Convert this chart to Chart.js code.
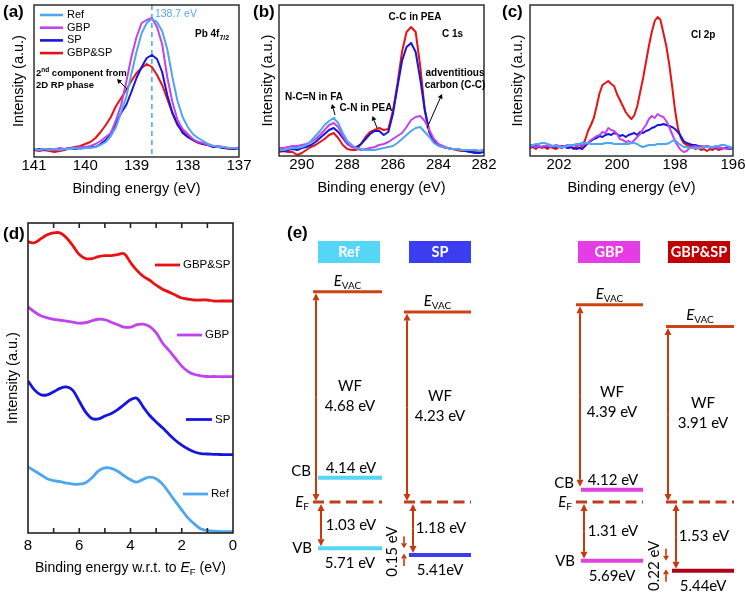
<!DOCTYPE html>
<html><head><meta charset="utf-8">
<script src="https://cdn.jsdelivr.net/npm/chart.js@4.4.1/dist/chart.umd.min.js"></script>
<style>
html,body{margin:0;padding:0;background:#fff;}
#fig{position:relative;width:746px;height:596px;background:#fff;overflow:hidden;}
#fig canvas{position:absolute;left:0;top:0;}
</style></head>
<body><div id="fig">
<canvas id="cvA" width="746" height="596"></canvas>
<canvas id="cvB" width="746" height="596"></canvas>
<canvas id="cvC" width="746" height="596"></canvas>
<canvas id="cvD" width="746" height="596"></canvas>
<canvas id="cvE" width="746" height="596"></canvas>
</div>
<script>
// ================= DATA =================
const seriesNames = ['Ref', 'GBP', 'SP', 'GBP&SP'];

// (a) Pb 4f7/2 : binding energy 141 -> 137 eV, step 0.1
const pbRange = [141, 137, 0.1];
const pbTicks = [141, 140, 139, 138, 137];
const pbPeak = 138.7;
const pbRef = [8,7,8,7,8,7,8,8,9,8, 9,9,10,12,15,21,30,45,60,83, 105,124,134,138,135,126,108,80,56,40, 30,23,19,16,13,11,10,10,9,9, 8];
const pbGBP = [8,7,8,8,7,9,8,9,9,10, 10,11,13,16,20,24,37,52,75,100, 120,134,137,139,130,113,80,55,37,28, 23,18,15,14,12,11,11,10,9,9, 9];
const pbSP  = [7,8,7,8,7,8,8,9,8,9, 9,10,10,13,17,24,34,44,52,65, 79,90,99,102,98,85,62,44,33,24, 20,17,15,13,12,10,10,9,9,8, 8];
const pbGS  = [7,6,7,6,5,6,7,9,10,11, 13,15,19,25,32,40,51,59,67,76, 84,89,93,90,82,72,58,44,32,26, 20,17,14,13,12,10,10,9,8,8, 8];

// (b) C 1s : 291 -> 282 eV, step 0.2
const c1sRange = [291, 282, 0.2];
const c1sTicks = [290, 288, 286, 284, 282];
const c1sRef = [6,6,7,8,8,9,11,15,20,25, 31,35,38,33,23,15,11,8,7,6, 6,6,7,8,9,10,13,17,21,25, 28,29,24,19,13,10,9,8,7,7, 6,6,6,6,5,6];
const c1sGBP = [8,8,9,10,10,11,12,14,17,21, 26,31,33,29,20,13,9,7,6,7, 8,9,11,12,14,17,20,23,29,36, 39,40,35,26,17,12,10,8,7,7, 6,6,6,6,5,6];
const c1sSP  = [6,5,6,7,6,8,9,11,14,18, 22,26,28,24,18,12,9,9,12,17, 22,25,25,21,24,42,69,95,109,113, 104,77,46,24,15,11,9,8,7,7, 6,5,4,3,3,4];
const c1sGS  = [4,5,4,4,1,3,6,9,11,14, 17,21,23,18,11,7,6,6,12,19, 24,26,28,26,27,45,72,104,124,129, 124,90,46,24,14,11,9,8,7,6, 5,5,4,4,5,4];

// (c) Cl 2p : 203 -> 196 eV, step 0.1
const cl2pRange = [203, 196, 0.1];
const cl2pTicks = [202, 200, 198, 196];
const cl2pRef = [11,11,12,12,13,13,12,11,10,10, 9,9,9,10,11,11,12,12,13,13, 13,12,12,12,12,12,13,13,13,12, 12,12,12,12,12,13,13,12,10,9, 10,11,11,11,12,12,12,12,13,15, 16,13,11,9,9,8,8,8,8,8, 9,9,9,9,10,10,11,11,10,9, 8];
const cl2pGBP = [9,10,9,10,9,10,10,9,10,11, 10,9,10,11,10,11,10,11,11,12, 13,16,18,20,21,24,23,28,26,25, 22,17,16,14,15,13,16,19,22,27, 31,37,40,38,42,40,39,35,29,22, 15,10,6,4,5,8,9,10,9,10, 9,10,9,8,9,8,8,8,7,8, 8];
const cl2pSP  = [9,9,10,9,9,10,9,9,10,9, 9,10,9,8,9,8,7,8,7,10, 13,15,17,18,20,19,21,22,21,23, 22,20,21,19,21,22,23,21,24,23, 25,26,28,29,31,31,32,31,30,29, 27,24,20,15,13,12,11,11,10,10, 9,10,9,9,8,9,8,8,8,7, 8];
const cl2pGS  = [8,9,7,10,8,9,7,9,8,7, 9,8,10,8,9,7,9,8,10,16, 25,31,38,50,63,71,73,75,72,70, 62,56,50,44,40,37,41,50,64,78, 94,110,124,135,139,136,123,110,92,70, 46,28,18,13,11,10,9,7,8,6, 7,5,7,6,8,6,7,8,7,8, 8];

// (d) UPS valence region : 8 -> 0 eV, step 0.25 (curves offset vertically)
const upsRange = [8, 0, 0.25];
const upsTicks = [8, 6, 4, 2, 0];
const upsRef = [67,63,59,55,53,52,50.5,49.5,49.5,51, 56,63,66,65.5,62.5,58,54,51.5,54.5,56.5, 55,49.5,41,32,23.5,15,9,4,2.5,1.8,1.5,1.3,1.3];
const upsGBP = [229,224,220,218,216.5,215.5,214.5,213.5,212.5,213, 215,216.5,216,213.5,211,208.5,208.5,211,211.5,209, 203,192.5,185,177,169,163.5,160.5,159.2,158.5,158.5,158.3,158.3,158.3];
const upsSP  = [154,145,140,140,143,146.5,148,144.5,133.5,122.5, 116,115.5,118.5,121,125,130,135,136.5,127.5,119, 112.5,106.5,100,94,89,85,82,80.3,80,79.7,79.5,79.3,79.3];
const upsGS  = [295,294,298,302,304,304,299,291,282,278, 278,280,281,281,282,283,274,266,260,256, 251,247,244,241,238,237,236,236,236,235,235,235,235];

// (e) energy-level diagram (eV)
const samples = ['Ref', 'SP', 'GBP', 'GBP&SP'];
const workFunction = [4.68, 4.23, 4.39, 3.91];
const cbEnergy = [4.14, null, 4.12, null];
const vbEnergy = [5.71, 5.41, 5.69, 5.44];
const vbBelowEF = [1.03, 1.18, 1.31, 1.53];
const vbShift = [null, 0.15, null, 0.22];
const vbShiftFrom = [null, 0, null, 2];

// ================= STYLE / LAYOUT =================
const TXT = '"Liberation Sans", Arial, Helvetica, sans-serif';
const EFONT = 'Lato, "Open Sans", sans-serif';
Chart.defaults.font.family = TXT;
const seriesColors = ['#4ea6ef', '#c043ef', '#1515df', '#e81212'];
const boxColors = ['#56d6f6', '#3c3cf0', '#e63ce6', '#c00000'];
const bandColors = ['#56d6f6', '#3c3cf0', '#e040e0', '#b00018'];
const vacColor = '#cc4414', efColor = '#bf3c1c', arrowColor = '#c8380c';
const colL = [313, 404, 576, 666], colR = [382, 471, 643, 734], bandL = [318, 409, 581, 672];
const boxL = [318, 409, 578, 668];
const wfArrowX = [316, 407, 580, 668], offArrowX = [321, 413, 584, 676], shiftArrowX = [null, 404, null, 666];
const wfArrowToCB = [false, false, true, false];
const vbUnitSep = [' ', '', '', ''];

// ================= HELPERS =================
function makeGrid(a, b, st) {
  const n = Math.round(Math.abs(b - a) / st) + 1, s = b < a ? -1 : 1;
  return Array.from({length: n}, (_, i) => +(a + s * i * st).toFixed(3));
}
function txt(ctx, s, x, y, font, color, align, base) {
  ctx.save(); ctx.font = font; ctx.fillStyle = color || '#000';
  ctx.textAlign = align || 'left'; ctx.textBaseline = base || 'middle';
  ctx.fillText(s, x, y); ctx.restore();
}
// parts: [text, font, dy]
function rich(ctx, parts, x, yb, align, color) {
  ctx.save(); ctx.fillStyle = color || '#000'; ctx.textBaseline = 'alphabetic'; ctx.textAlign = 'left';
  let w = 0; const ws = parts.map(p => { ctx.font = p[1]; const m = ctx.measureText(p[0]).width; w += m; return m; });
  let x0 = align === 'center' ? x - w / 2 : align === 'right' ? x - w : x;
  parts.forEach((p, i) => { ctx.font = p[1]; ctx.fillText(p[0], x0, yb + (p[2] || 0)); x0 += ws[i]; });
  ctx.restore();
}
function seg(ctx, x1, y1, x2, y2, color, lw, dash) {
  ctx.save(); ctx.strokeStyle = color; ctx.lineWidth = lw; if (dash) ctx.setLineDash(dash);
  ctx.beginPath(); ctx.moveTo(x1, y1); ctx.lineTo(x2, y2); ctx.stroke(); ctx.restore();
}
function arrow(ctx, x1, y1, x2, y2, color, lw, head, hw) {
  const a = Math.atan2(y2 - y1, x2 - x1);
  const bx = x2 - head * Math.cos(a), by = y2 - head * Math.sin(a);
  ctx.save(); ctx.strokeStyle = color; ctx.fillStyle = color; ctx.lineWidth = lw;
  ctx.beginPath(); ctx.moveTo(x1, y1); ctx.lineTo(bx, by); ctx.stroke();
  ctx.beginPath(); ctx.moveTo(x2, y2);
  ctx.lineTo(bx + hw * Math.sin(a), by - hw * Math.cos(a));
  ctx.lineTo(bx - hw * Math.sin(a), by + hw * Math.cos(a));
  ctx.closePath(); ctx.fill(); ctx.restore();
}
function dblArrow(ctx, x, y1, y2, color, lw, head, hw) {
  const m = (y1 + y2) / 2;
  arrow(ctx, x, m, x, y1, color, lw, head, hw);
  arrow(ctx, x, m, x, y2, color, lw, head, hw);
}
function framePlugin(tickSpec, lw) {
  return { id: 'frame', afterDatasetsDraw(chart) {
    const {ctx, chartArea: a, scales: {x}} = chart;
    ctx.save(); ctx.strokeStyle = '#222'; ctx.lineWidth = lw || 1.4;
    ctx.strokeRect(a.left, a.top, a.right - a.left, a.bottom - a.top);
    if (tickSpec) {
      tickSpec.values.forEach(t => {
        const px = x.getPixelForValue(t);
        ctx.beginPath(); ctx.moveTo(px, a.bottom); ctx.lineTo(px, a.bottom - tickSpec.len);
        ctx.moveTo(px, a.top); ctx.lineTo(px, a.top + tickSpec.len); ctx.stroke();
      });
    }
    ctx.restore();
  }};
}

function spectrum(id, cfg) {
  const E = makeGrid(...cfg.range);
  return new Chart(document.getElementById(id), {
    type: 'line',
    data: { datasets: cfg.series.map((vals, i) => ({
      label: seriesNames[i],
      data: vals.map((v, j) => ({x: E[j], y: v})),
      borderColor: seriesColors[i], backgroundColor: seriesColors[i],
      borderWidth: cfg.lw, pointRadius: 0, tension: cfg.tension || 0, fill: false,
      borderJoinStyle: 'round', cubicInterpolationMode: 'default'
    }))},
    options: {
      responsive: false, animation: false, devicePixelRatio: 1, events: [],
      layout: { padding: cfg.pad },
      plugins: { legend: {display: false}, tooltip: {enabled: false} },
      scales: {
        x: { type: 'linear', reverse: true, min: cfg.xmin, max: cfg.xmax,
             afterBuildTicks: s => { s.ticks = cfg.ticks.map(v => ({value: v})); },
             ticks: { font: {family: TXT, size: 15}, color: '#000', padding: cfg.tickPad, maxRotation: 0, autoSkip: false, callback: v => String(v) },
             grid: { display: false, drawTicks: false }, border: { display: false },
             title: cfg.xTitle ? { display: true, text: cfg.xTitle, font: {family: TXT, size: 14.5}, color: '#000', padding: {top: 5, bottom: 0} } : {display: false} },
        y: { type: 'linear', min: 0, max: cfg.ymax,
             ticks: { display: false }, grid: { display: false, drawTicks: false }, border: { display: false },
             title: { display: true, text: 'Intensity (a.u.)', font: {family: TXT, size: 14.5}, color: '#000', padding: {top: 0, bottom: cfg.yGap} } }
      }
    },
    plugins: [framePlugin(cfg.frameTicks, cfg.frameLw), {id: 'ann' + id, beforeDatasetsDraw: cfg.under || (() => {}), afterDatasetsDraw: cfg.annotate || (() => {})}]
  });
}

const B10 = `bold 10px ${TXT}`;

// ---------- (a) ----------
spectrum('cvA', {
  range: pbRange, ticks: pbTicks, xmin: 137, xmax: 141, ymax: 152,
  series: [pbRef, pbGBP, pbSP, pbGS], lw: 2,
  pad: {left: 10, right: 507, top: 5, bottom: 398.6}, yGap: 6.6, tickPad: 0,
  xTitle: 'Binding energy (eV)',
  under(chart) {
    const {ctx, chartArea: a, scales: {x}} = chart;
    const px = x.getPixelForValue(pbPeak);
    seg(ctx, px, a.top, px, a.bottom, '#52aaee', 1.6, [5, 4]);
  },
  annotate(chart) {
    const {ctx, scales: {x}} = chart;
    chart.data.datasets.forEach((ds, i) => {
      const ly = 15 + i * 12.7;
      seg(ctx, 40, ly, 63, ly, ds.borderColor, 2.6);
      txt(ctx, ds.label, 67, ly, `11px ${TXT}`, '#000');
    });
    txt(ctx, pbPeak.toFixed(1) + ' eV', x.getPixelForValue(pbPeak) + 3, 14, `10.5px ${TXT}`, '#52aaee');
    rich(ctx, [['Pb 4f', B10], ['7/2', `bold 7px ${TXT}`, 3]], 195, 37, 'left');
    rich(ctx, [['2', `bold 9.5px ${TXT}`], ['nd', `bold 6.5px ${TXT}`, -4], [' component from', `bold 9.5px ${TXT}`]], 36, 76, 'left');
    rich(ctx, [['2D RP phase', `bold 9.5px ${TXT}`]], 36, 88, 'left');
    arrow(ctx, 127, 89, 117, 79, '#000', 1, 4.5, 2.5);
  }
});

// ---------- (b) ----------
spectrum('cvB', {
  range: c1sRange, ticks: c1sTicks, xmin: 282, xmax: 291, ymax: 151,
  series: [c1sRef, c1sGBP, c1sSP, c1sGS], lw: 2,
  pad: {left: 259.3, right: 262, top: 5, bottom: 399.6}, yGap: 2.3, tickPad: 0,
  xTitle: 'Binding energy (eV)',
  annotate(chart) {
    const {ctx} = chart;
    txt(ctx, 'C-C in PEA', 415, 17, B10, '#000', 'center');
    txt(ctx, 'C 1s', 442, 34, B10, '#000', 'left');
    txt(ctx, 'adventitious', 455, 73, B10, '#000', 'center');
    txt(ctx, 'carbon (C-C)', 455, 85.5, B10, '#000', 'center');
    txt(ctx, 'N-C=N in FA', 314, 97.5, B10, '#000', 'center');
    txt(ctx, 'C-N in PEA', 366, 108.5, B10, '#000', 'center');
    arrow(ctx, 427, 128, 442, 94, '#000', 1, 4.5, 2.5);
    arrow(ctx, 335, 115, 332, 104, '#000', 1, 4.5, 2.5);
    arrow(ctx, 377, 128, 372.5, 116, '#000', 1, 4.5, 2.5);
  }
});

// ---------- (c) ----------
spectrum('cvC', {
  range: cl2pRange, ticks: cl2pTicks, xmin: 196, xmax: 203, ymax: 151,
  series: [cl2pRef, cl2pGBP, cl2pSP, cl2pGS], lw: 2,
  pad: {left: 509.3, right: 13, top: 5, bottom: 399.6}, yGap: 3.3, tickPad: 0,
  xTitle: 'Binding energy (eV)',
  annotate(chart) {
    txt(chart.ctx, 'Cl 2p', 691, 35, B10, '#000', 'left');
  }
});

// ---------- (d) ----------
const upsLegend = [[183, 208, 494], [177, 202, 335], [186, 212, 419.5], [155, 180, 265]];
spectrum('cvD', {
  range: upsRange, ticks: upsTicks, xmin: 0, xmax: 8, ymax: 314,
  series: [upsRef, upsGBP, upsSP, upsGS], lw: 2.8, tension: 0.35,
  pad: {left: 4.3, right: 513, top: 223, bottom: 37}, yGap: 6.3, tickPad: 4,
  xTitle: null, frameLw: 1.6,
  frameTicks: {values: [1, 2, 3, 4, 5, 6, 7], len: 5},
  annotate(chart) {
    const {ctx} = chart;
    chart.data.datasets.forEach((ds, i) => {
      const [x1, x2, ly] = upsLegend[i];
      seg(ctx, x1, ly, x2, ly, ds.borderColor, 2.8);
      txt(ctx, ds.label, x2 + 3, ly, `11.5px ${TXT}`, '#000');
    });
    rich(ctx, [['Binding energy w.r.t. to ', `14px ${TXT}`], ['E', `italic 14px ${TXT}`], ['F', `9.5px ${TXT}`, 3], [' (eV)', `14px ${TXT}`]], 130.5, 572, 'center');
  }
});

// ---------- (e) ----------
const levelSets = [];
function lvl(x1, x2, e, color, w, dash) {
  levelSets.push({data: [{x: x1, y: e}, {x: x2, y: e}], showLine: true, borderColor: color, borderWidth: w,
    borderDash: dash || [], pointRadius: 0, clip: false, borderCapStyle: 'butt'});
}
samples.forEach((s, i) => {
  lvl(colL[i], colR[i], 0, efColor, 3, [11, 5.5]);
  if (cbEnergy[i] != null) lvl(bandL[i], colR[i], workFunction[i] - cbEnergy[i], bandColors[i], 4);
  lvl(bandL[i], colR[i], -vbBelowEF[i], bandColors[i], 4);
  lvl(colL[i], colR[i], workFunction[i], vacColor, 3);
});

const diagram = { id: 'diagram', afterDatasetsDraw(chart) {
  const {ctx, scales: {y}} = chart;
  const Y = v => y.getPixelForValue(v);
  const F15 = `15px ${EFONT}`;
  // panel letters
  ['(a)', '(b)', '(c)', '(d)', '(e)'].forEach((l, k) => {
    const pos = [[3, 12], [253, 12], [502, 12], [3, 234], [287, 233]][k];
    txt(ctx, l, pos[0], pos[1], `bold 17px ${TXT}`, '#000');
  });
  samples.forEach((s, i) => {
    const cc = (colL[i] + colR[i]) / 2, bc = (bandL[i] + colR[i]) / 2;
    // header box
    ctx.fillStyle = boxColors[i]; ctx.fillRect(boxL[i], 241, 62, 22);
    txt(ctx, s, boxL[i] + 31, 252.5, `bold 14.5px ${EFONT}`, '#fff', 'center');
    const yv = Y(workFunction[i]), yf = Y(0), yb = Y(-vbBelowEF[i]);
    // E_VAC
    rich(ctx, [['E', `italic 15px ${EFONT}`], ['VAC', `10px ${EFONT}`, 3]], cc, yv - 6, 'center');
    // WF arrow
    const yEnd = wfArrowToCB[i] ? Y(workFunction[i] - cbEnergy[i]) - 3 : yf - 1;
    dblArrow(ctx, wfArrowX[i], yv + 1.5, yEnd, arrowColor, 2, 7, 3.5);
    const mid = (yv + yf) / 2;
    txt(ctx, 'WF', bc, mid - 11, F15, '#000', 'center');
    txt(ctx, workFunction[i].toFixed(2) + ' eV', bc, mid + 9, F15, '#000', 'center');
    // CB
    if (cbEnergy[i] != null) {
      const yc = Y(workFunction[i] - cbEnergy[i]);
      txt(ctx, 'CB', bandL[i] - 7, yc - 7, F15, '#000', 'right');
      txt(ctx, cbEnergy[i].toFixed(2) + ' eV', bc + 1, yc - 10, F15, '#000', 'center');
    }
    // E_F and VB labels only for columns with a CB
    if (cbEnergy[i] != null) {
      rich(ctx, [['E', `italic 15px ${EFONT}`], ['F', `10px ${EFONT}`, 3]], colL[i] - 4, yf + 5, 'right');
      txt(ctx, 'VB', bandL[i] - 6, yb, F15, '#000', 'right');
    }
    // EF -> VB arrow
    dblArrow(ctx, offArrowX[i], yf + 2, yb - 2, arrowColor, 2, 7, 3.5);
    txt(ctx, vbBelowEF[i].toFixed(2) + ' eV', bc + 1, (yf + yb) / 2, F15, '#000', 'center');
    txt(ctx, vbEnergy[i].toFixed(2) + vbUnitSep[i] + 'eV', bc, yb + 15, F15, '#000', 'center');
    // VB shift arrows
    if (vbShift[i] != null) {
      const yr = Y(-vbBelowEF[vbShiftFrom[i]]);
      const sx = shiftArrowX[i];
      arrow(ctx, sx, yr - 12, sx, yr, arrowColor, 1.6, 5, 3);
      arrow(ctx, sx, yb + 11, sx, yb - 1.5, arrowColor, 1.6, 5, 3);
      ctx.save(); ctx.translate(sx - 12, (yr + yb) / 2); ctx.rotate(-Math.PI / 2);
      txt(ctx, vbShift[i].toFixed(2) + ' eV', 0, 0, F15, '#000', 'center');
      ctx.restore();
    }
  });
}};

new Chart(document.getElementById('cvE'), {
  type: 'scatter',
  data: { datasets: levelSets },
  options: {
    responsive: false, animation: false, devicePixelRatio: 1, events: [],
    layout: { padding: 0 },
    plugins: { legend: {display: false}, tooltip: {enabled: false} },
    scales: { x: {type: 'linear', display: false, min: 0, max: 746},
              y: {type: 'linear', display: false, min: -2.094, max: 11.180} }
  },
  plugins: [diagram]
});
</script></body></html>
